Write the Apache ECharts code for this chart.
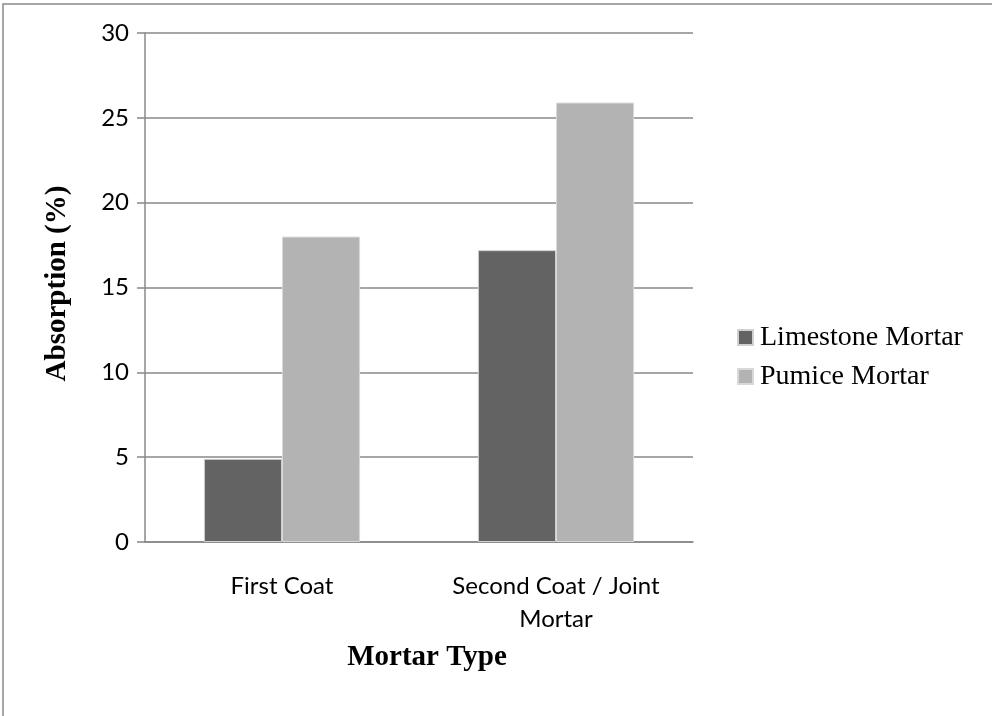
<!DOCTYPE html>
<html>
<head>
<meta charset="utf-8">
<script src="https://cdn.jsdelivr.net/npm/echarts@6/dist/echarts.min.js"></script>
<style>
  html, body { margin: 0; padding: 0; background: #fff; }
  #chart { width: 992px; height: 716px; }
</style>
</head>
<body>
<div id="chart"></div>
<script>
// Water absorption of the two mortar types
const categories = ['First Coat', 'Second Coat / Joint\nMortar'];
const seriesNames = ['Limestone Mortar', 'Pumice Mortar'];
const limestone = [4.9, 17.2];
const pumice = [18.0, 25.9];
const yTicks = { min: 0, max: 30, interval: 5 };

const chart = echarts.init(document.getElementById('chart'), null, { renderer: 'canvas' });

const sansFont = 'Lato, "Open Sans", sans-serif';
const serifFont = '"Liberation Serif", "DejaVu Serif", serif';

chart.setOption({
  backgroundColor: '#ffffff',
  animation: false,
  graphic: [{
    type: 'rect',
    shape: { x: 3, y: 4, width: 1100, height: 800 },
    style: { fill: 'none', stroke: '#8a8a8a', lineWidth: 1.5 },
    silent: true
  }],
  grid: { left: 145, right: 299, top: 33, bottom: 174, containLabel: false },
  legend: {
    orient: 'vertical',
    left: 737,
    top: 323,
    padding: 0,
    itemWidth: 15,
    itemHeight: 15,
    itemGap: 10,
    icon: 'rect',
    textStyle: { fontFamily: serifFont, fontSize: 28, lineHeight: 29, color: '#000', padding: [0, 0, 0, 2] },
    data: seriesNames
  },
  xAxis: {
    type: 'category',
    data: categories,
    name: 'Mortar Type',
    nameLocation: 'middle',
    nameGap: 101,
    nameTextStyle: { fontFamily: serifFont, fontSize: 29, fontWeight: 'bold', color: '#000', padding: [0, 0, 0, 16] },
    axisLine: { lineStyle: { color: '#888', width: 1.5 } },
    axisTick: { show: false },
    axisLabel: { fontFamily: sansFont, fontSize: 24, color: '#000', margin: 28, lineHeight: 33 }
  },
  yAxis: {
    type: 'value',
    min: yTicks.min,
    max: yTicks.max,
    interval: yTicks.interval,
    name: 'Absorption (%)',
    nameLocation: 'middle',
    nameGap: 73,
    nameTextStyle: { fontFamily: serifFont, fontSize: 29, fontWeight: 'bold', color: '#000', padding: [0, 0, 0, 8] },
    axisLine: { show: true, lineStyle: { color: '#888', width: 1.5 } },
    axisTick: { show: true, length: 8, lineStyle: { color: '#888', width: 1.5 } },
    axisLabel: { fontFamily: sansFont, fontSize: 24, color: '#000', margin: 16 },
    splitLine: { lineStyle: { color: '#888', width: 1.5 } }
  },
  series: [
    {
      name: seriesNames[0],
      type: 'bar',
      data: limestone,
      barGap: '0%',
      barCategoryGap: '43%',
      itemStyle: { color: '#636363', borderColor: '#d0d0d0', borderWidth: 1 }
    },
    {
      name: seriesNames[1],
      type: 'bar',
      data: pumice,
      barGap: '0%',
      barCategoryGap: '43%',
      itemStyle: { color: '#b3b3b3', borderColor: '#d8d8d8', borderWidth: 1 }
    }
  ]
});
</script>
</body>
</html>
